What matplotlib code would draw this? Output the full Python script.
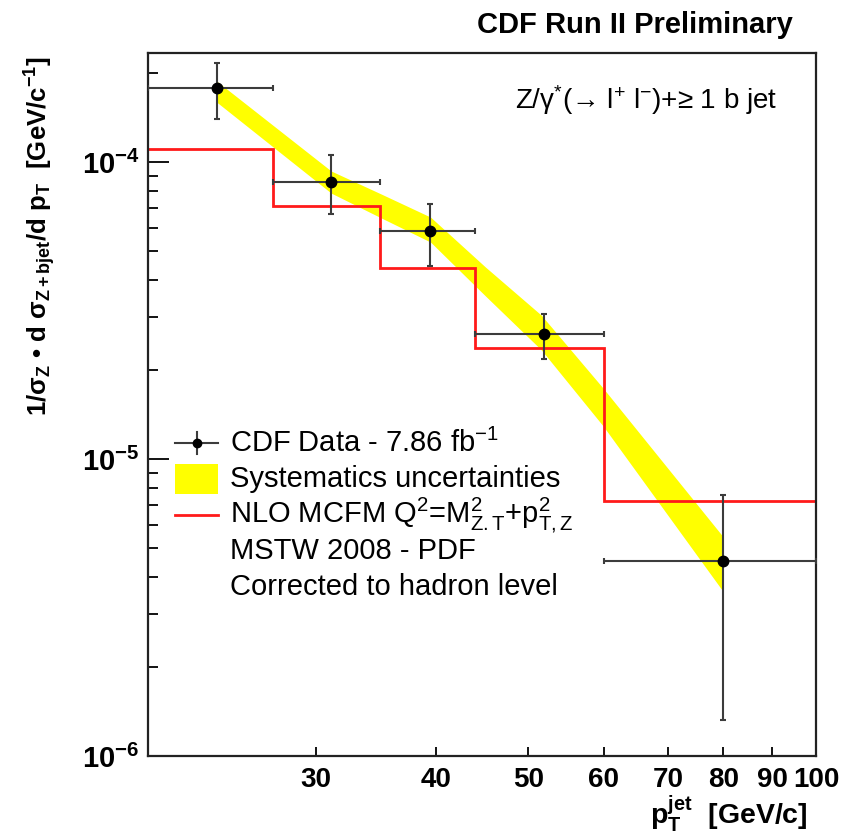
import matplotlib
matplotlib.use("Agg")
import matplotlib.pyplot as plt
from matplotlib.lines import Line2D
from matplotlib.patches import Rectangle
from matplotlib.ticker import FixedLocator, NullLocator, LogLocator, FixedFormatter, NullFormatter

plt.rcParams['font.family'] = ['Liberation Sans', 'DejaVu Sans']
plt.rcParams['mathtext.fontset'] = 'custom'
plt.rcParams['mathtext.rm'] = 'Liberation Sans'
plt.rcParams['mathtext.it'] = 'Liberation Sans:italic'
plt.rcParams['mathtext.bf'] = 'Liberation Sans:bold'
plt.rcParams['mathtext.sf'] = 'Liberation Sans'
plt.rcParams['mathtext.default'] = 'regular'

# ---------------- data ----------------
bin_edges = [20, 27, 35, 44, 60, 100]
data_pt = [23.6, 31.1, 39.5, 51.9, 80.0]
data_val = [1.77e-4, 8.59e-5, 5.87e-5, 2.63e-5, 4.53e-6]
data_up = [2.16e-4, 1.056e-4, 7.22e-5, 3.09e-5, 7.56e-6]
data_dn = [1.40e-4, 6.67e-5, 4.46e-5, 2.17e-5, 1.32e-6]
nlo_val = [1.104e-4, 7.13e-5, 4.41e-5, 2.37e-5, 7.22e-6]
band_x = [23.6, 31.1, 35.1, 39.5, 45.1, 51.6, 59.9, 80.0]
band_hi = [1.874e-4, 9.33e-5, 7.80e-5, 6.53e-5, 4.43e-5, 3.05e-5, 1.73e-5, 5.46e-6]
band_lo = [1.592e-4, 7.86e-5, 6.48e-5, 5.38e-5, 3.54e-5, 2.33e-5, 1.29e-5, 3.57e-6]
xtick_vals = [30, 40, 50, 60, 70, 80, 90, 100]
xtick_labels = ['30', '40', '50', '60', '70', '80', '90', '100']
ytick_vals = [1e-6, 1e-5, 1e-4]
ytick_labels = [r'$\mathbf{10^{-6}}$', r'$\mathbf{10^{-5}}$', r'$\mathbf{10^{-4}}$']

W, H = 843, 833
fig = plt.figure(figsize=(W / 100, H / 100), dpi=100)
ax = fig.add_axes([148 / W, 1 - 756 / H, (816 - 148) / W, (756 - 53) / H])

ax.set_xscale('log')
ax.set_yscale('log')
ax.set_xlim(20, 100)
ax.set_ylim(1e-6, 2.33e-4)

# systematics band
ax.fill_between(band_x, band_lo, band_hi, color='#ffff00', lw=0, zorder=1)
# NLO prediction
ax.stairs(nlo_val, bin_edges, color='#ff1a1a', lw=2.0, zorder=2, baseline=None)
# data
xerr_l = [p - bin_edges[i] for i, p in enumerate(data_pt)]
xerr_r = [bin_edges[i + 1] - p for i, p in enumerate(data_pt)]
yerr_l = [v - d for v, d in zip(data_val, data_dn)]
yerr_r = [u - v for v, u in zip(data_val, data_up)]
ax.errorbar(data_pt, data_val, xerr=[xerr_l, xerr_r], yerr=[yerr_l, yerr_r],
            fmt='o', ms=7.5, mfc='k', mec='k', ecolor='#3c3c3c', elinewidth=1.5,
            capsize=2.5, capthick=1.5, zorder=3, clip_on=True)

# axes styling
for s in ax.spines.values():
    s.set_linewidth(1.6)
    s.set_color('#222222')
ax.xaxis.set_major_locator(FixedLocator(xtick_vals))
ax.xaxis.set_major_formatter(FixedFormatter(xtick_labels))
ax.xaxis.set_minor_locator(NullLocator())
ax.yaxis.set_major_locator(FixedLocator(ytick_vals))
ax.yaxis.set_major_formatter(FixedFormatter(ytick_labels))
ax.yaxis.set_minor_locator(LogLocator(base=10, subs=[2, 3, 4, 5, 6, 7, 8, 9]))
ax.yaxis.set_minor_formatter(NullFormatter())
ax.tick_params(axis='x', which='major', direction='in', length=6.5, width=1.3,
               pad=8, labelsize=20, top=False)
ax.tick_params(axis='y', which='major', direction='in', length=15, width=1.3,
               pad=6, labelsize=21, right=False)
ax.tick_params(axis='y', which='minor', direction='in', length=7.5, width=1.3, right=False)
for lab in ax.get_xticklabels():
    lab.set_fontweight('bold')

# texts
fig.text(793 / W, 1 - 25 / H, 'CDF Run II Preliminary', ha='right', va='center',
         fontsize=21, fontweight='bold')
fig.text(515 / W, 1 - 100 / H, r'Z/$\gamma^{*}$(→ l$^{+}$ l$^{-}$)+≥ 1 b jet', ha='left',
         va='center', fontsize=20)
fig.text(40 / W, 1 - 236 / H,
         r'$\mathbf{1/σ_{Z}\ •\ d\ σ_{Z+bjet}/d\ p_{T}\ \ [GeV/c^{-1}]}$',
         rotation=90, ha='center', va='center', fontsize=18.5)
fig.text(808 / W, 1 - 814 / H, r'$\mathbf{p_{T}^{jet}\ \ [GeV/c]}$', ha='right',
         va='center', fontsize=20.5)

# legend (drawn manually, in figure pixel coords)
rows_y = [443, 479, 515, 551, 587]
labels = [r'CDF Data - 7.86 fb$^{-1}$', 'Systematics uncertainties',
          r'NLO MCFM Q$^{2}$=M$^{2}_{Z.T}$+p$^{2}_{T,Z}$', 'MSTW 2008 - PDF',
          'Corrected to hadron level']
for yy, lab in zip(rows_y, labels):
    fig.text(230 / W, 1 - yy / H, lab, ha='left', va='center', fontsize=21)
fy = lambda p: 1 - p / H
fig.add_artist(Line2D([175 / W, 218 / W], [fy(443), fy(443)], color='#3c3c3c', lw=1.5))
fig.add_artist(Line2D([196.5 / W, 196.5 / W], [fy(432), fy(454)], color='#3c3c3c', lw=1.5))
fig.add_artist(Line2D([196.5 / W], [fy(443)], marker='o', ms=6, color='k', lw=0))
fig.add_artist(Rectangle((175 / W, fy(494)), 43 / W, 30 / H, color='#ffff00', lw=0))
fig.add_artist(Line2D([175 / W, 218 / W], [fy(515), fy(515)], color='#ff1a1a', lw=2.0))

fig.savefig('out.png', dpi=100)
